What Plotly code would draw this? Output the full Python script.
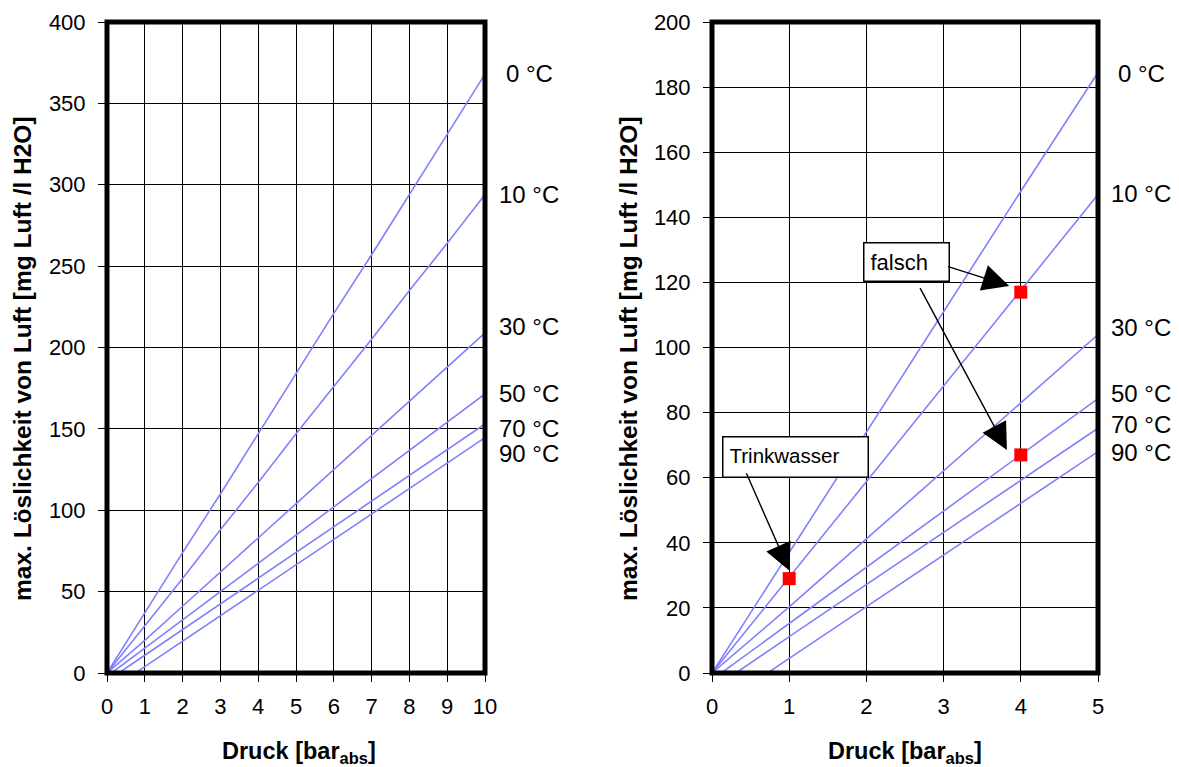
import plotly.graph_objects as go

# ---------------- data ----------------
# left chart: pressure 0..10 bar
p_left = [0, 1, 2, 3, 4, 5, 6, 7, 8, 9, 10]
left_0C = [0, 37, 74, 110, 147, 184, 221, 257, 294, 331, 368]
left_10C = [0, 29, 58, 88, 117, 147, 176, 205, 235, 264, 294]
left_30C = [0, 20, 41, 62, 83, 104, 125, 146, 167, 188, 209]
p_left_50C = [0, 0.12, 1, 2, 3, 4, 5, 6, 7, 8, 9, 10]
left_50C = [0, 0, 15.3, 32.6, 50, 67.3, 84.7, 102, 119.4, 136.8, 154.1, 171.5]
p_left_70C = [0, 0.31, 1, 2, 3, 4, 5, 6, 7, 8, 9, 10]
left_70C = [0, 0, 10.9, 26.7, 42.5, 58.3, 74.1, 89.9, 105.7, 121.5, 137.3, 153]
p_left_90C = [0, 0.75, 1, 2, 3, 4, 5, 6, 7, 8, 9, 10]
left_90C = [0, 0, 3.9, 19.5, 35.1, 50.6, 66.2, 81.8, 97.4, 113, 128.6, 144.6]

# right chart: pressure 0..5 bar
p_right = [0, 1, 2, 3, 4, 5]
right_0C = [0, 37, 74, 111, 148, 184.5]
right_10C = [0, 29.4, 58.8, 88.2, 117.6, 147]
right_30C = [0, 20.3, 41.2, 62, 83, 104]
p_right_50C = [0, 0.12, 1, 2, 3, 4, 5]
right_50C = [0, 0, 15.2, 32.5, 49.8, 67, 84.3]
p_right_70C = [0, 0.31, 1, 2, 3, 4, 5]
right_70C = [0, 0, 11.2, 27.2, 43.2, 59.2, 75.2]
p_right_90C = [0, 0.72, 1, 2, 3, 4, 5]
right_90C = [0, 0, 4.5, 20.4, 36.3, 52.2, 68]

temp_labels = ["0 °C", "10 °C", "30 °C", "50 °C", "70 °C", "90 °C"]
label_y_left = [368.5, 294.3, 212.6, 172, 150, 134.6]
label_y_right = [184.3, 147.2, 106, 86, 76.2, 67.6]

# marked points on the right chart
mark_p = [1, 4, 4]
mark_v = [29, 117, 67]

box_texts = ["Trinkwasser", "falsch"]

y_title = "max. Löslichkeit von Luft [mg Luft /l H2O]"
x_title = "Druck [bar<sub>abs</sub>]"

left_ticks_x = list(range(0, 11))
left_ticks_y = list(range(0, 401, 50))
right_ticks_x = list(range(0, 6))
right_ticks_y = list(range(0, 201, 20))

# ---------------- figure ----------------
LINE = dict(color="#8080ff", width=1.6)
FONT = "Liberation Sans, Arial, sans-serif"

fig = go.Figure()

left_series = [
    (p_left, left_0C), (p_left, left_10C), (p_left, left_30C),
    (p_left_50C, left_50C), (p_left_70C, left_70C), (p_left_90C, left_90C),
]
right_series = [
    (p_right, right_0C), (p_right, right_10C), (p_right, right_30C),
    (p_right_50C, right_50C), (p_right_70C, right_70C), (p_right_90C, right_90C),
]
for (xs, ys), name in zip(left_series, temp_labels):
    fig.add_trace(go.Scatter(x=xs, y=ys, mode="lines", line=LINE, name=name,
                             xaxis="x", yaxis="y", showlegend=False, hoverinfo="skip"))
for (xs, ys), name in zip(right_series, temp_labels):
    fig.add_trace(go.Scatter(x=xs, y=ys, mode="lines", line=LINE, name=name,
                             xaxis="x2", yaxis="y2", showlegend=False, hoverinfo="skip"))

fig.add_trace(go.Scatter(x=mark_p, y=mark_v, mode="markers",
                         marker=dict(symbol="square", size=13, color="#ff0000"),
                         xaxis="x2", yaxis="y2", showlegend=False, hoverinfo="skip"))

W, H = 1179, 767
def px_x(p):
    return p / W
def px_y(p):
    return 1 - p / H

ydom = [px_y(673), px_y(22)]

axis_common = dict(
    showgrid=True, gridcolor="#000000", gridwidth=1,
    zeroline=False, showline=False,
    ticks="outside", ticklen=8, tickwidth=1, tickcolor="#000000",
    tickfont=dict(family=FONT, size=22, color="#000000"),
    automargin=False, fixedrange=True,
)

fig.update_layout(
    width=W, height=H,
    margin=dict(l=0, r=0, t=0, b=0),
    paper_bgcolor="white", plot_bgcolor="white",
    font=dict(family=FONT, color="#000000"),
    xaxis=dict(domain=[px_x(107), px_x(485)], range=[0, 10], tickvals=left_ticks_x,
               anchor="y", ticklabelstandoff=6, **axis_common),
    yaxis=dict(domain=ydom, range=[0, 400], tickvals=left_ticks_y,
               anchor="x", ticklabelstandoff=8, **axis_common),
    xaxis2=dict(domain=[px_x(712), px_x(1098)], range=[0, 5], tickvals=right_ticks_x,
                anchor="y2", ticklabelstandoff=6, **axis_common),
    yaxis2=dict(domain=ydom, range=[0, 200], tickvals=right_ticks_y,
                anchor="x2", ticklabelstandoff=8, **axis_common),
)

shapes = []
for xr, yr in (("x", "y"), ("x2", "y2")):
    shapes.append(dict(type="rect", xref=f"{xr} domain", yref=f"{yr} domain",
                       x0=0, x1=1, y0=0, y1=1, line=dict(color="#000000", width=5),
                       layer="above"))
fig.update_layout(shapes=shapes)

ann = []
for t, yv in zip(temp_labels, label_y_left):
    ann.append(dict(x=10, y=yv, xref="x", yref="y", text=t, showarrow=False,
                    xanchor="center", yanchor="middle", xshift=44,
                    font=dict(family=FONT, size=24, color="#000000")))
for t, yv in zip(temp_labels, label_y_right):
    ann.append(dict(x=5, y=yv, xref="x2", yref="y2", text=t, showarrow=False,
                    xanchor="center", yanchor="middle", xshift=43,
                    font=dict(family=FONT, size=24, color="#000000")))

# axis titles
for xc in (22, 628):
    ann.append(dict(x=px_x(xc), y=px_y(359), xref="paper", yref="paper", text=f"<b>{y_title}</b>",
                    textangle=-90, showarrow=False, xanchor="center", yanchor="middle",
                    font=dict(family=FONT, size=24.5, color="#000000")))
for xc in (299, 905):
    ann.append(dict(x=px_x(xc), y=px_y(752), xref="paper", yref="paper", text=f"<b>{x_title}</b>",
                    showarrow=False, xanchor="center", yanchor="middle",
                    font=dict(family=FONT, size=23.5, color="#000000")))

# callout boxes
ann.append(dict(x=1.079, y=66.4, xref="x2", yref="y2", text=box_texts[0], showarrow=False,
                xanchor="center", yanchor="middle", align="left", valign="top",
                width=132, height=27, borderpad=6, bordercolor="#000000", borderwidth=1.5,
                bgcolor="white", font=dict(family=FONT, size=20.5, color="#000000")))
ann.append(dict(x=2.517, y=126.2, xref="x2", yref="y2", text=box_texts[1], showarrow=False,
                xanchor="center", yanchor="middle", align="left", valign="top",
                width=72, height=25, borderpad=6, bordercolor="#000000", borderwidth=1.5,
                bgcolor="white", font=dict(family=FONT, size=22, color="#000000")))

# arrows (tail -> tip)
arrows = [((0.437, 61.8), (1.0, 31.5)),
          ((3.04, 125.0), (3.85, 118.9)),
          ((2.685, 118.7), (3.82, 68.5))]
for (ax, ay), (x, y) in arrows:
    ann.append(dict(x=x, y=y, ax=ax, ay=ay, xref="x2", yref="y2", axref="x2", ayref="y2",
                    text="", showarrow=True, arrowhead=2, arrowsize=3.8, arrowwidth=1.4,
                    arrowcolor="#000000", standoff=0))

fig.update_layout(annotations=ann)

fig.write_html("out.html")
